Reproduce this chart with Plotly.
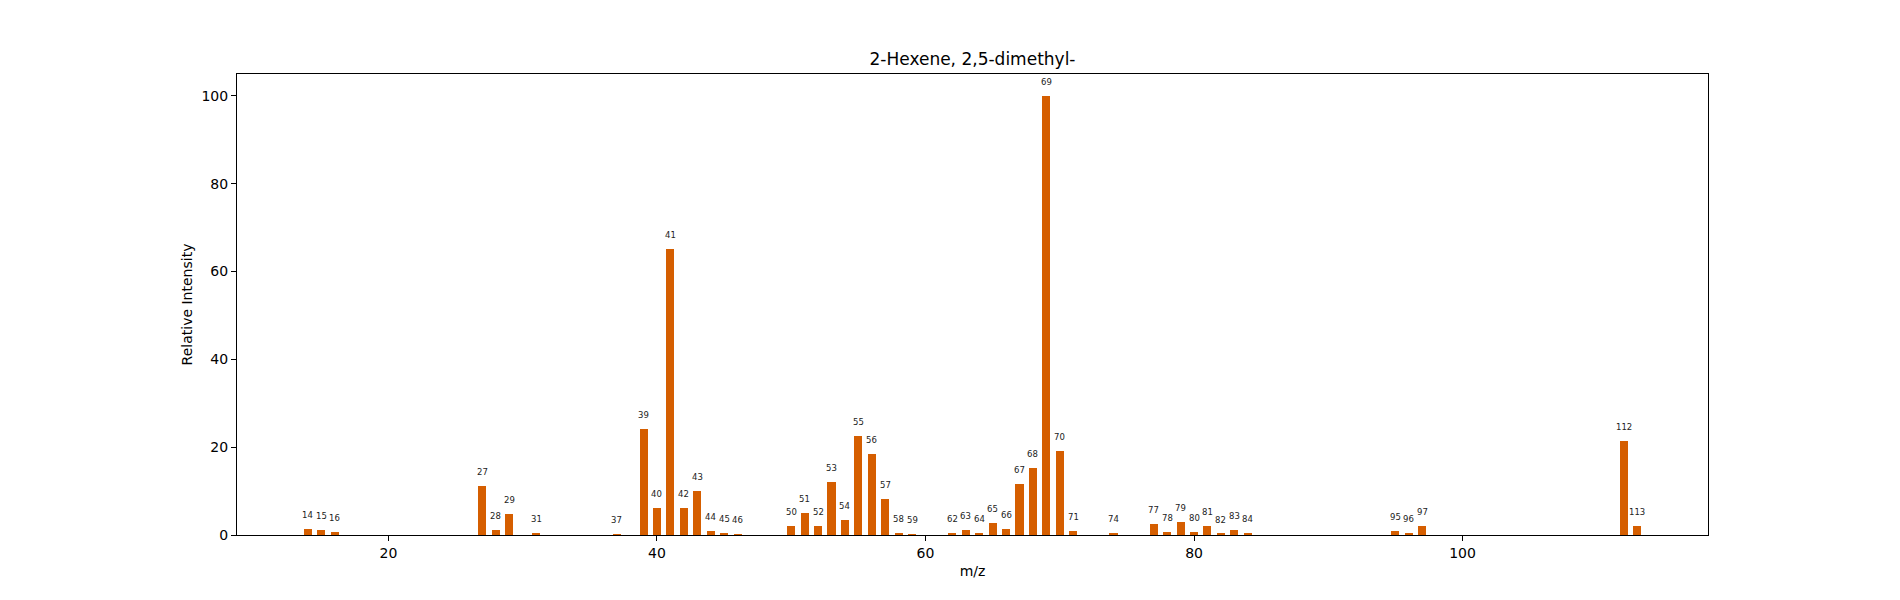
import plotly.graph_objects as go

# Espectro de masas: m/z e intensidad relativa
mz = [14, 15, 16, 27, 28, 29, 31, 37, 39, 40, 41, 42, 43, 44, 45, 46,
      50, 51, 52, 53, 54, 55, 56, 57, 58, 59, 62, 63, 64, 65, 66, 67,
      68, 69, 70, 71, 74, 77, 78, 79, 80, 81, 82, 83, 84, 95, 96, 97,
      112, 113]
intensity = [1.4, 1.1, 0.7, 11.2, 1.1, 4.8, 0.45, 0.2, 24.1, 6.1, 65.2, 6.1,
             10.0, 0.9, 0.45, 0.2, 2.0, 5.0, 2.0, 12.1, 3.5, 22.6, 18.5, 8.2,
             0.45, 0.2, 0.45, 1.2, 0.45, 2.7, 1.4, 11.7, 15.3, 100.0, 19.2,
             0.9, 0.45, 2.6, 0.7, 3.0, 0.6, 2.1, 0.25, 1.1, 0.45, 1.0, 0.45,
             2.0, 21.5, 2.0]

title = "2-Hexene, 2,5-dimethyl-"
x_ticks = [20, 40, 60, 80, 100]
y_ticks = [0, 20, 40, 60, 80, 100]

FONT = "DejaVu Sans"
COLOR = "#d55e00"

fig = go.Figure(go.Bar(x=mz, y=intensity, width=0.6,
                       marker=dict(color=COLOR, line=dict(width=0))))

# etiquetas m/z sobre cada barra
for m, v in zip(mz, intensity):
    fig.add_annotation(x=m, y=v, text=str(m), showarrow=False,
                       yanchor="middle", yshift=14,
                       font=dict(family=FONT, size=8.5, color="#222"))

axis_common = dict(showline=True, linecolor="black", linewidth=1, mirror=True,
                   ticks="outside", ticklen=5, tickcolor="black",
                   showgrid=False, zeroline=False,
                   tickfont=dict(family=FONT, size=14, color="black"))

fig.update_xaxes(range=[8.72, 118.28], tickvals=x_ticks,
                 title=dict(text="m/z", font=dict(family=FONT, size=14, color="black"),
                            standoff=6),
                 **axis_common)
fig.update_yaxes(range=[0, 105], tickvals=y_ticks,
                 title=dict(text="Relative Intensity",
                            font=dict(family=FONT, size=14, color="black"),
                            standoff=5),
                 **axis_common)

fig.update_layout(
    width=1900, height=600,
    margin=dict(l=229, r=200, t=66, b=73),
    paper_bgcolor="white", plot_bgcolor="white",
    title=dict(text=title, x=0.5, xref="paper", xanchor="center",
               y=1 - 51 / 600, yanchor="middle",
               font=dict(family=FONT, size=17, color="black")),
    showlegend=False, bargap=0,
)

fig.write_html("out.html")
